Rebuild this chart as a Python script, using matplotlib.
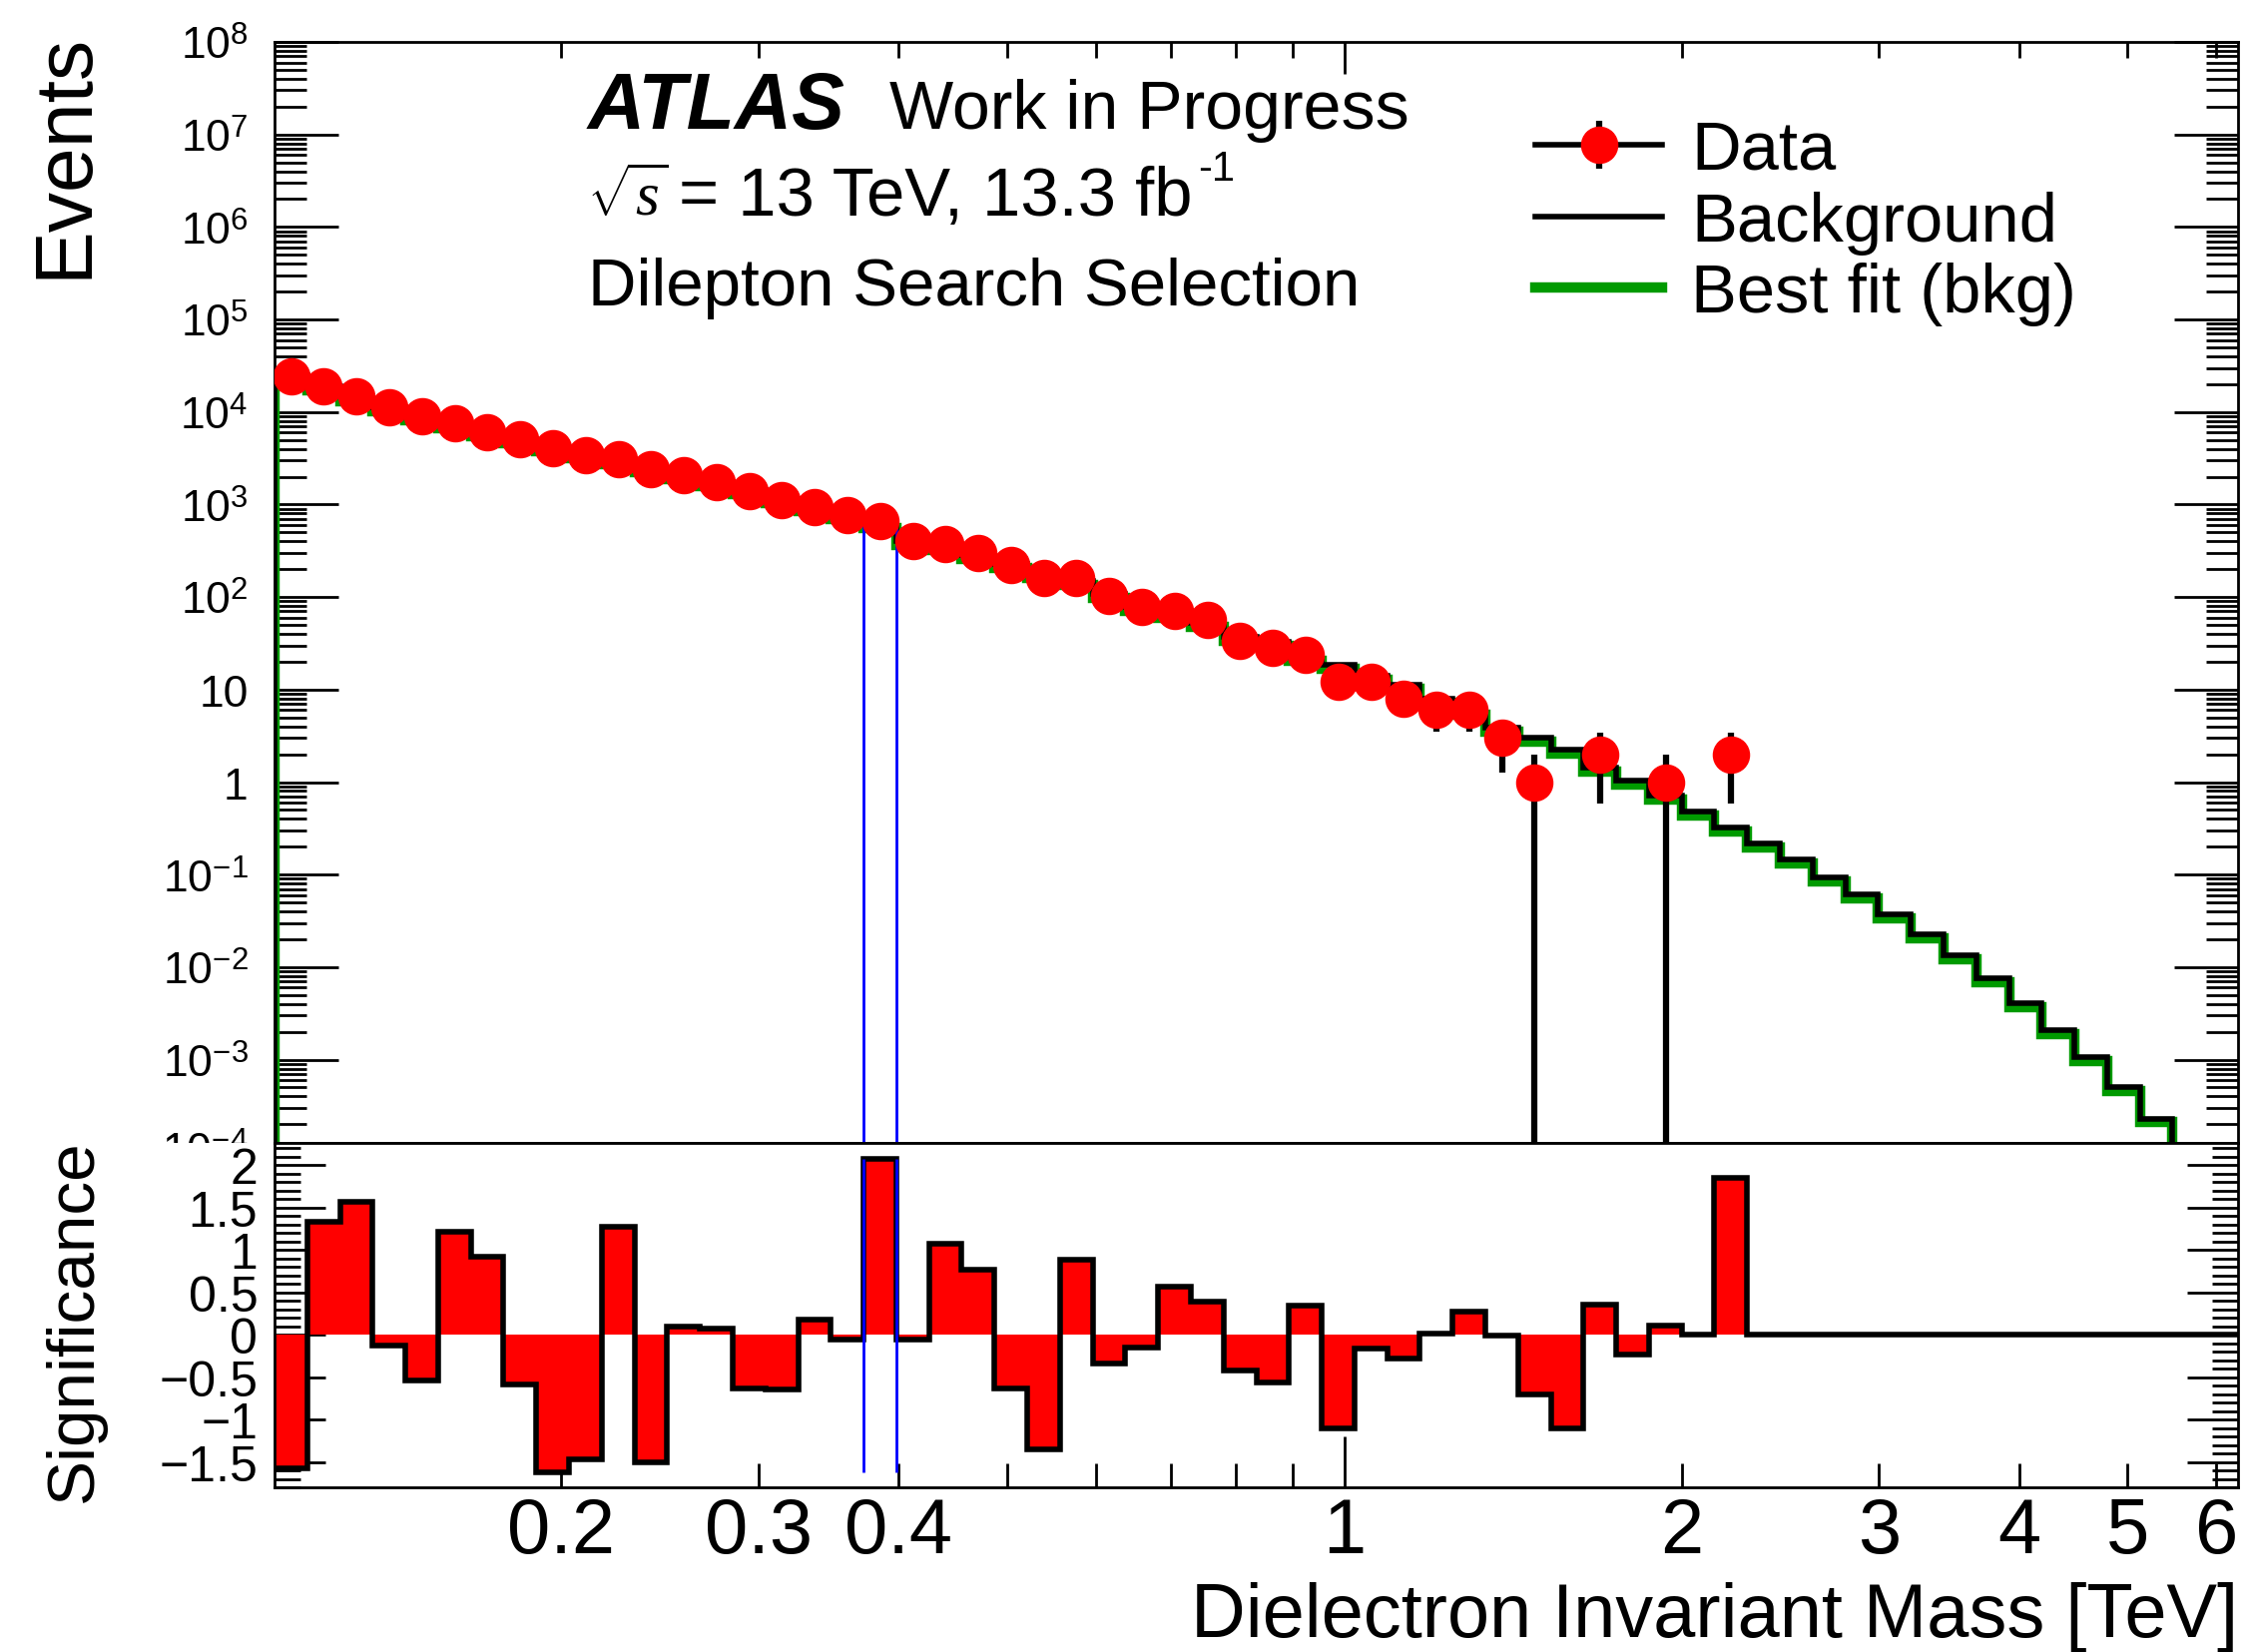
import numpy as np
import matplotlib
matplotlib.use("Agg")
import matplotlib.pyplot as plt
from matplotlib.lines import Line2D
from matplotlib.ticker import FixedLocator, FixedFormatter, NullFormatter
from matplotlib.transforms import Bbox, TransformedBbox
from matplotlib.legend_handler import HandlerTuple, HandlerErrorbar
from matplotlib.container import ErrorbarContainer

plt.rcParams["font.family"] = ["Liberation Sans", "DejaVu Sans"]
plt.rcParams["mathtext.fontset"] = "custom"
plt.rcParams["mathtext.rm"] = "Liberation Sans"
plt.rcParams["mathtext.it"] = "Liberation Serif:italic"
plt.rcParams["mathtext.bf"] = "Liberation Sans:bold"

# ---------------- data ----------------
mass_low = 0.111    # TeV, first bin edge
mass_high = 6.274   # TeV, last bin edge
n_bins = 60

data_events = [24500, 19000, 14800, 11200, 8900, 7500, 6100, 5100, 4100, 3400,
               3100, 2400, 2100, 1740, 1400, 1130, 950, 760, 660, 400,
               375, 300, 220, 160, 160, 104, 78, 70, 56, 34,
               28, 24, 12, 12, 8, 6, 6, 3, 1, 0,
               2, 0, 1, 0, 2, 0, 0, 0, 0, 0,
               0, 0, 0, 0, 0, 0, 0, 0, 0, 0]

background = [24750, 18820, 14610, 11210, 8950, 7400, 6030, 5140, 4200, 3490,
              3030, 2470, 2100, 1740, 1420, 1150, 945, 760, 610, 400,
              355, 287, 230, 178, 150, 107, 79, 65, 53, 37.5,
              33, 22.5, 18.5, 14.0, 11.2, 8.0, 6.0, 3.9, 3.0, 2.25,
              1.45, 1.04, 0.72, 0.48, 0.32, 0.215, 0.146, 0.094, 0.061, 0.037,
              0.0225, 0.0134, 0.0075, 0.0041, 0.0021, 0.00107, 0.00051, 0.00023, 9.5e-5, 3.8e-5]

best_fit = [22400, 17030, 13220, 10150, 8100, 6700, 5460, 4650, 3800, 3160,
            2740, 2240, 1900, 1575, 1285, 1040, 855, 688, 552, 362,
            321, 260, 208, 161, 136, 97, 71.5, 59, 48, 34,
            29.9, 20.4, 16.7, 12.7, 10.1, 7.2, 5.4, 3.53, 2.72, 2.04,
            1.31, 0.94, 0.65, 0.434, 0.29, 0.195, 0.132, 0.085, 0.055, 0.0335,
            0.0204, 0.0121, 0.0068, 0.0037, 0.0019, 0.00097, 0.00046, 0.00021, 8.6e-5, 3.4e-5]

significance = [-1.58, 1.33, 1.57, -0.125, -0.54, 1.21, 0.92, -0.59, -1.62, -1.47,
                1.27, -1.51, 0.09, 0.07, -0.64, -0.65, 0.18, -0.06, 2.07, -0.06,
                1.07, 0.76, -0.64, -1.35, 0.88, -0.34, -0.15, 0.56, 0.39, -0.42,
                -0.57, 0.34, -1.10, -0.17, -0.285, 0.01, 0.27, -0.01, -0.70, -1.10,
                0.35, -0.23, 0.105, 0.0, 1.85, 0, 0, 0, 0, 0,
                0, 0, 0, 0, 0, 0, 0, 0, 0, 0]

window_bin = 18

events_ticks = [1e-3, 1e-2, 1e-1, 1, 10, 1e2, 1e3, 1e4, 1e5, 1e6, 1e7, 1e8]
events_tick_labels = ["$10^{-3}$", "$10^{-2}$", "$10^{-1}$", "1", "10", "$10^{2}$",
                      "$10^{3}$", "$10^{4}$", "$10^{5}$", "$10^{6}$", "$10^{7}$", "$10^{8}$"]
sig_ticks = [-1.5, -1, -0.5, 0, 0.5, 1, 1.5, 2]
sig_tick_labels = ["\u22121.5", "\u22121", "\u22120.5", "0", "0.5", "1", "1.5", "2"]
mass_major_ticks = [1.0]
mass_major_labels = ["1"]
mass_minor_ticks = [0.2, 0.3, 0.4, 0.5, 0.6, 0.7, 0.8, 0.9, 2, 3, 4, 5, 6]
mass_minor_labels = ["0.2", "0.3", "0.4", "", "", "", "", "", "2", "3", "4", "5", "6"]

events_ylim = (10 ** -3.9, 1e8)
sig_ylim = (-1.8, 2.26)

# ---------------- figure ----------------
W, H = 2254, 1656
fig = plt.figure(figsize=(W / 100, H / 100), dpi=100)
ax_top = fig.add_axes([275 / W, 1 - 1146 / H, (2242 - 275) / W, (1146 - 43) / H])
ax_bot = fig.add_axes([275 / W, 1 - 1491 / H, (2242 - 275) / W, (1491 - 1146) / H])

edges = np.geomspace(mass_low, mass_high, n_bins + 1)
centers = 0.5 * (edges[:-1] + edges[1:])
n = np.array(data_events, dtype=float)
has_data = n > 0

black_lw = 4.0
green = "#009a00"
txt_size = 49.0

# upper panel
ax_top.set_xscale("log")
ax_top.set_yscale("log", nonpositive="clip")
ax_top.stairs(best_fit, edges, baseline=1e-12, color=green, lw=7.5, zorder=2)
ax_top.stairs(background, edges, baseline=1e-12, color="black", lw=black_lw, zorder=3)
ax_top.vlines([edges[window_bin], edges[window_bin + 1]], 1e-12, background[window_bin],
              colors="blue", lw=2.0, zorder=3.5)
eb = ax_top.errorbar(centers[has_data], n[has_data], yerr=np.sqrt(n[has_data]),
                     fmt="o", color="red", mec="red", ms=26, ecolor="black",
                     elinewidth=4.5, capsize=0, zorder=5)
ax_top.set_xlim(mass_low, mass_high)
ax_top.set_ylim(*events_ylim)

# lower panel
ax_bot.set_xscale("log")
ax_bot.stairs(significance, edges, baseline=0, fill=True, color="red", lw=0, zorder=2)
ax_bot.stairs(significance, edges, baseline=None, color="black", lw=black_lw, zorder=3)
ax_bot.vlines([edges[window_bin], edges[window_bin + 1]], min(significance), max(significance),
              colors="blue", lw=2.0, zorder=4)
ax_bot.set_xlim(mass_low, mass_high)
ax_bot.set_ylim(*sig_ylim)

# ticks
for ax in (ax_top, ax_bot):
    ax.xaxis.set_major_locator(FixedLocator(mass_major_ticks))
    ax.xaxis.set_minor_locator(FixedLocator(mass_minor_ticks))
    for s in ax.spines.values():
        s.set_linewidth(2.0)

ax_top.xaxis.set_major_formatter(NullFormatter())
ax_top.xaxis.set_minor_formatter(NullFormatter())
ax_top.tick_params(axis="x", which="both", direction="in", top=True, bottom=False,
                   labelbottom=False, width=2)
ax_top.tick_params(axis="x", which="major", length=23)
ax_top.tick_params(axis="x", which="minor", length=11.5)
ax_top.yaxis.set_major_locator(FixedLocator(events_ticks))
ax_top.yaxis.set_major_formatter(FixedFormatter(events_tick_labels))
minor_y = [k * 10.0 ** d for d in range(-4, 8) for k in range(2, 10)]
ax_top.yaxis.set_minor_locator(FixedLocator(minor_y))
ax_top.yaxis.set_minor_formatter(NullFormatter())
ax_top.tick_params(axis="y", which="both", direction="in", left=True, right=True, width=2)
ax_top.tick_params(axis="y", which="major", length=46, labelsize=32, pad=19)
ax_top.tick_params(axis="y", which="minor", length=23)

ax_bot.xaxis.set_major_formatter(FixedFormatter(mass_major_labels))
ax_bot.xaxis.set_minor_formatter(FixedFormatter(mass_minor_labels))
ax_bot.tick_params(axis="x", which="both", direction="in", top=False, bottom=True,
                   width=2, labelsize=56, pad=6)
ax_bot.tick_params(axis="x", which="major", length=37)
ax_bot.tick_params(axis="x", which="minor", length=17.5)
ax_bot.yaxis.set_major_locator(FixedLocator(sig_ticks))
ax_bot.yaxis.set_major_formatter(FixedFormatter(sig_tick_labels))
ax_bot.yaxis.set_minor_locator(FixedLocator(np.round(np.arange(-1.8, 2.25, 0.1), 2)))
ax_bot.yaxis.set_minor_formatter(NullFormatter())
ax_bot.tick_params(axis="y", which="both", direction="in", left=True, right=True, width=2)
ax_bot.tick_params(axis="y", which="major", length=37, labelsize=36, pad=12)
ax_bot.tick_params(axis="y", which="minor", length=18.7)

# partially hidden 10^-4 label
lbl = ax_top.annotate("$10^{-4}$", xy=(0, 1e-4), xycoords=("axes fraction", "data"),
                      xytext=(-19, 0), textcoords="offset points", ha="right", va="center",
                      fontsize=32, annotation_clip=False)
lbl.set_clip_on(True)
lbl.set_clip_box(TransformedBbox(Bbox([[0, 1 - 1146 / H], [1, 1]]), fig.transFigure))

# axis titles
fig.text(0.0288, 1 - 33 / H, "Events", rotation=90, ha="center", va="top", fontsize=58)
fig.text(0.0333, 1 - 1141 / H, "Significance", rotation=90, ha="center", va="top", fontsize=48.6)
fig.text(2242 / W, 1 - 1640 / H, "Dielectron Invariant Mass [TeV]", ha="right",
         va="baseline", fontsize=54.5)

# labels
fig.text(589 / W, 1 - 129 / H, "ATLAS", fontsize=57, fontweight="bold", fontstyle="italic",
         va="baseline")
fig.text(891 / W, 1 - 129 / H, "Work in Progress", fontsize=txt_size, va="baseline")
fig.text(588 / W, 1 - 216 / H, r"$\sqrt{s}$", fontsize=44, va="baseline")
fig.text(680 / W, 1 - 216 / H, "= 13 TeV, 13.3 fb", fontsize=49.5, va="baseline")
fig.text(1200 / W, 1 - 181 / H, "-1", fontsize=30, va="baseline")
fig.text(589 / W, 1 - 306 / H, "Dilepton Search Selection", fontsize=48.4, va="baseline")

# legend
h_data = (Line2D([], [], color="black", lw=black_lw), eb)
h_bkg = Line2D([], [], color="black", lw=black_lw)
h_fit = Line2D([], [], color=green, lw=7.5)
ax_top.legend([h_data, h_bkg, h_fit], ["Data", "Background", "Best fit (bkg)"],
              loc="upper left", bbox_to_anchor=(1538 / W, 1 - 120 / H),
              bbox_transform=fig.transFigure, fontsize=49.5, frameon=False,
              handlelength=1.85, handletextpad=0.42, labelspacing=0.11,
              borderpad=0, borderaxespad=0,
              handler_map={tuple: HandlerTuple(ndivide=1, pad=0),
                           ErrorbarContainer: HandlerErrorbar(xerr_size=0.35)})

fig.savefig("out.png", dpi=100)
